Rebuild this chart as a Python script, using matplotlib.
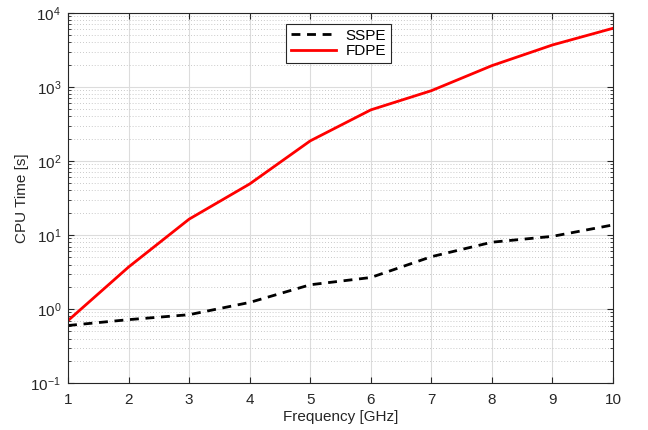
import matplotlib
matplotlib.use("Agg")
import matplotlib.pyplot as plt
from matplotlib.ticker import LogLocator, NullFormatter, FixedLocator

plt.rcParams['font.family'] = ['Liberation Sans', 'DejaVu Sans']
plt.rcParams['mathtext.fontset'] = 'custom'
plt.rcParams['mathtext.rm'] = 'Liberation Sans'
plt.rcParams['mathtext.it'] = 'Liberation Sans:italic'
plt.rcParams['mathtext.bf'] = 'Liberation Sans:bold'

freq = [1, 2, 3, 4, 5, 6, 7, 8, 9, 10]
sspe = [0.60, 0.72, 0.84, 1.23, 2.13, 2.67, 5.1, 8.0, 9.6, 13.7]
fdpe = [0.70, 3.7, 16.4, 49, 187, 490, 890, 1940, 3690, 6200]

fig = plt.figure(figsize=(6.48, 4.30), dpi=100)
ax = fig.add_axes([0.105, 0.109, 0.841, 0.861])

ax.plot(freq, sspe, color='black', linestyle=(0, (3.2, 2.4)), linewidth=2.0, label='SSPE')
ax.plot(freq, fdpe, color='#ff0000', linestyle='-', linewidth=2.0, label='FDPE')

ax.set_yscale('log')
ax.set_xlim(1, 10)
ax.set_ylim(0.1, 1e4)
ax.xaxis.set_major_locator(FixedLocator(freq))
ax.yaxis.set_major_locator(LogLocator(base=10, numticks=10))
ax.yaxis.set_minor_locator(LogLocator(base=10, subs=range(2, 10), numticks=20))
ax.yaxis.set_minor_formatter(NullFormatter())

ax.grid(True, which='major', color='#dcdcdc', linestyle='-', linewidth=0.8)
ax.grid(True, which='minor', axis='y', color='#b8b8b8', linestyle=(0, (1, 2.5)), linewidth=0.6)
ax.set_axisbelow(True)

ax.tick_params(which='both', direction='in', top=True, right=True, colors='#262626', labelsize=11)
ax.tick_params(which='major', length=4, pad=5)
ax.tick_params(axis='x', which='major', pad=7)
ax.tick_params(which='minor', length=2.5)
for s in ax.spines.values():
    s.set_color('#262626')
    s.set_linewidth(0.8)

ax.set_xlabel('Frequency [GHz]', fontsize=11, color='#262626', labelpad=2)
ax.set_ylabel('CPU Time [s]', fontsize=11, color='#262626', labelpad=1)

leg = ax.legend(loc='upper left', bbox_to_anchor=(0.386, 0.99), fontsize=11,
                frameon=True, fancybox=False, edgecolor='#262626', framealpha=1,
                handlelength=3.0, borderpad=0.3, labelspacing=0.1, handletextpad=0.6)
leg.get_frame().set_linewidth(0.8)

fig.savefig('out.png', dpi=100)
